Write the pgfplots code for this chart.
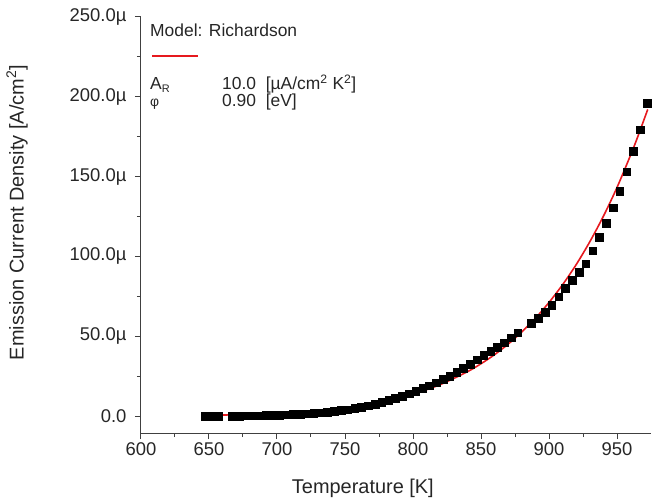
\documentclass[border=0pt]{standalone}
\usepackage{fontspec}
\setmainfont{Liberation Sans}
\usepackage{pgfplots}
\pgfplotsset{compat=1.18}
\usepackage{pgfplotstable}
\definecolor{fitred}{RGB}{230,25,30}
\pgfplotstableread{
T J
647 0.0
652 0.0
657 0.0
667 0.1
672 0.1
677 0.2
682 0.2
687 0.3
692 0.4
697 0.5
702 0.6
707 0.8
712 1.0
717 1.2
722 1.5
727 1.8
732 2.1
737 2.5
742 3.0
747 3.5
752 4.1
757 4.8
762 5.6
767 6.5
772 7.5
777 8.6
782 9.8
787 11.1
792 12.5
797 14.0
802 15.6
807 17.3
812 19.1
817 21.0
822 23.0
827 25.1
832 27.4
837 30.0
842 32.6
847 35.2
852 38.0
857 40.6
862 43.2
867 46.0
872 49.0
877 52.2
887 58.2
892 61.5
897 65.2
902 69.6
907 74.8
912 80.0
917 85.0
922 90.0
927 95.5
932 103.5
937 112.0
942 121.0
947 130.5
952 141.0
957 153.0
962 166.0
967 179.5
972 196.0
}\datatable
\pgfplotstableread{
T J
645 0.43
660 0.64
680 1.07
700 1.74
720 2.74
740 4.23
760 6.40
780 9.48
800 13.8
820 19.7
840 27.8
850 32.8
860 38.5
870 45.1
880 52.7
890 61.3
900 71.2
910 82.3
920 94.9
930 109.2
940 125.2
950 143.2
960 163.5
965 174.4
972.6 192.1
}\fittable
\begin{document}
\begin{tikzpicture}
\begin{axis}[
  scale only axis,
  width=510bp, height=416bp,
  xmin=600, xmax=975,
  ymin=-10.6, ymax=250,
  axis lines*=left,
  axis line style={line width=1bp, black!75},
  tick align=outside,
  tick style={line width=1bp, black!75},
  major tick length=6bp,
  minor tick length=4bp,
  xtick={600,650,...,950},
  xticklabels={600,650,700,750,800,850,900,950},
  minor x tick num=1,
  ytick={0,50,...,250},
  yticklabels={0.0,50.0µ,100.0µ,150.0µ,200.0µ,250.0µ},
  minor y tick num=1,
  ticklabel style={font=\fontsize{18.5}{22}\selectfont, text=black!85},
  yticklabel style={xshift=-5bp},
  xlabel={Temperature [K]},
  ylabel={Emission Current Density [A/cm\textsuperscript{2}]},
  label style={font=\fontsize{20}{24}\selectfont, text=black!85},
  xlabel style={at={(axis description cs:0.435,-0.132)}, anchor=center},
  ylabel style={at={(axis description cs:-0.243,0.53)}, anchor=center},
  clip=false,
]
\addplot[only marks, mark=square*, mark size=3.8bp, black] table[x=T, y=J] {\datatable};
\addplot[fitred, line width=1.6bp, smooth] table[x=T, y=J] {\fittable};
\end{axis}
\begin{scope}[every node/.style={font=\fontsize{17.5}{21}\selectfont, text=black!85, inner sep=0pt}]
\node[anchor=base west] at (9bp,396bp) {Model: Richardson};
\draw[fitred, line width=1.6bp] (11bp,377bp) -- (57bp,377bp);
\node[anchor=base west] at (9bp,343bp) {A\raisebox{-3bp}{\fontsize{11}{12}\selectfont R}};
\node[anchor=base west] at (81bp,343bp) {10.0\ \ [µA/cm\textsuperscript{2} K\textsuperscript{2}]};
\node[anchor=base west] at (9bp,326bp) {\fontsize{14}{16}\selectfont φ};
\node[anchor=base west] at (81bp,326bp) {0.90\ \ [eV]};
\end{scope}
\pgfresetboundingbox
\useasboundingbox (-141bp,-70bp) rectangle (523bp,433bp);
\end{tikzpicture}
\end{document}
